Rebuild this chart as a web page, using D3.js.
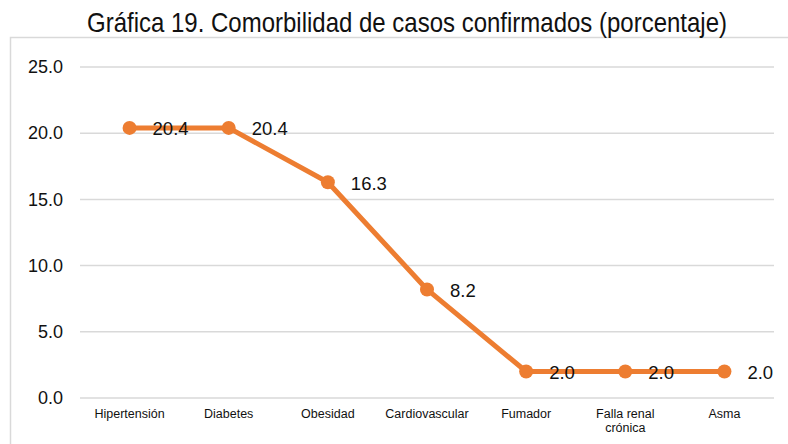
<!DOCTYPE html>
<html>
<head>
<meta charset="utf-8">
<script src="https://cdn.jsdelivr.net/npm/d3@7"></script>
<style>
  body { margin: 0; background: #fff; }
  svg { display: block; font-family: "Liberation Sans", Arial, sans-serif; }
</style>
</head>
<body>
<script>
// chart data
var categories = ['Hipertensión', 'Diabetes', 'Obesidad', 'Cardiovascular', 'Fumador', 'Falla renal\ncrónica', 'Asma'];
var values = [20.4, 20.4, 16.3, 8.2, 2.0, 2.0, 2.0];
var yTicks = [0, 5, 10, 15, 20, 25];

var width = 788,
	height = 444;

var margin = { left: 80, right: 14, top: 67, bottom: 46 };

var svg = d3.select('body')
	.append('svg')
	.attr('width', width)
	.attr('height', height);

// outer frame (runs off the right and bottom edges)
svg.append('rect')
	.attr('x', 10.5)
	.attr('y', 37.5)
	.attr('width', 800)
	.attr('height', 420)
	.attr('fill', 'none')
	.attr('stroke', '#d9d9d9')
	.attr('stroke-width', 1.5);

// title (slightly condensed look, like the original)
svg.append('text')
	.attr('transform', 'translate(407,32) scale(1,1.12)')
	.attr('text-anchor', 'middle')
	.attr('font-size', 24)
	.attr('fill', '#111')
	.text('Gráfica 19. Comorbilidad de casos confirmados (porcentaje)');

var x = d3.scaleBand()
	.domain(categories)
	.range([margin.left, width - margin.right]);

var y = d3.scaleLinear()
	.domain([0, 25])
	.range([398, 67]);

// gridlines
svg.append('g')
	.selectAll('line')
	.data(yTicks)
	.enter().append('line')
	.attr('x1', margin.left)
	.attr('x2', width - margin.right)
	.attr('y1', function(d) { return y(d); })
	.attr('y2', function(d) { return y(d); })
	.attr('stroke', '#d9d9d9')
	.attr('stroke-width', 1.5);

// y axis labels
var yAxis = d3.axisLeft(y)
	.tickValues(yTicks)
	.tickFormat(d3.format('.1f'))
	.tickSize(0)
	.tickPadding(0);

svg.append('g')
	.attr('transform', 'translate(63,0)')
	.call(yAxis)
	.call(function(g) { g.select('.domain').remove(); })
	.selectAll('text')
	.attr('font-size', 18)
	.attr('font-family', '"Liberation Sans", Arial, sans-serif')
	.attr('fill', '#111');

// x axis labels (with line breaks)
var xLabels = svg.append('g')
	.selectAll('text')
	.data(categories)
	.enter().append('text')
	.attr('x', function(d) { return x(d) + x.bandwidth() / 2; })
	.attr('y', 418)
	.attr('text-anchor', 'middle')
	.attr('font-size', 12.5)
	.attr('fill', '#111');

xLabels.each(function(d) {
	var t = d3.select(this);
	d.split('\n').forEach(function(part, i) {
		t.append('tspan')
			.attr('x', x(d) + x.bandwidth() / 2)
			.attr('dy', i ? 14 : 0)
			.text(part);
	});
});

var cx = function(i) { return x(categories[i]) + x.bandwidth() / 2; };

// line
var line = d3.line()
	.x(function(d, i) { return cx(i); })
	.y(function(d) { return y(d); });

svg.append('path')
	.datum(values)
	.attr('d', line)
	.attr('fill', 'none')
	.attr('stroke', '#ed7d31')
	.attr('stroke-width', 5)
	.attr('stroke-linejoin', 'round');

// markers
svg.append('g')
	.selectAll('circle')
	.data(values)
	.enter().append('circle')
	.attr('cx', function(d, i) { return cx(i); })
	.attr('cy', function(d) { return y(d); })
	.attr('r', 7)
	.attr('fill', '#ed7d31');

// value labels
svg.append('g')
	.selectAll('text')
	.data(values)
	.enter().append('text')
	.attr('x', function(d, i) { return cx(i) + 23; })
	.attr('y', function(d) { return y(d) + 7.5; })
	.attr('font-size', 18.5)
	.attr('fill', '#111')
	.text(function(d) { return d.toFixed(1); });
</script>
</body>
</html>
